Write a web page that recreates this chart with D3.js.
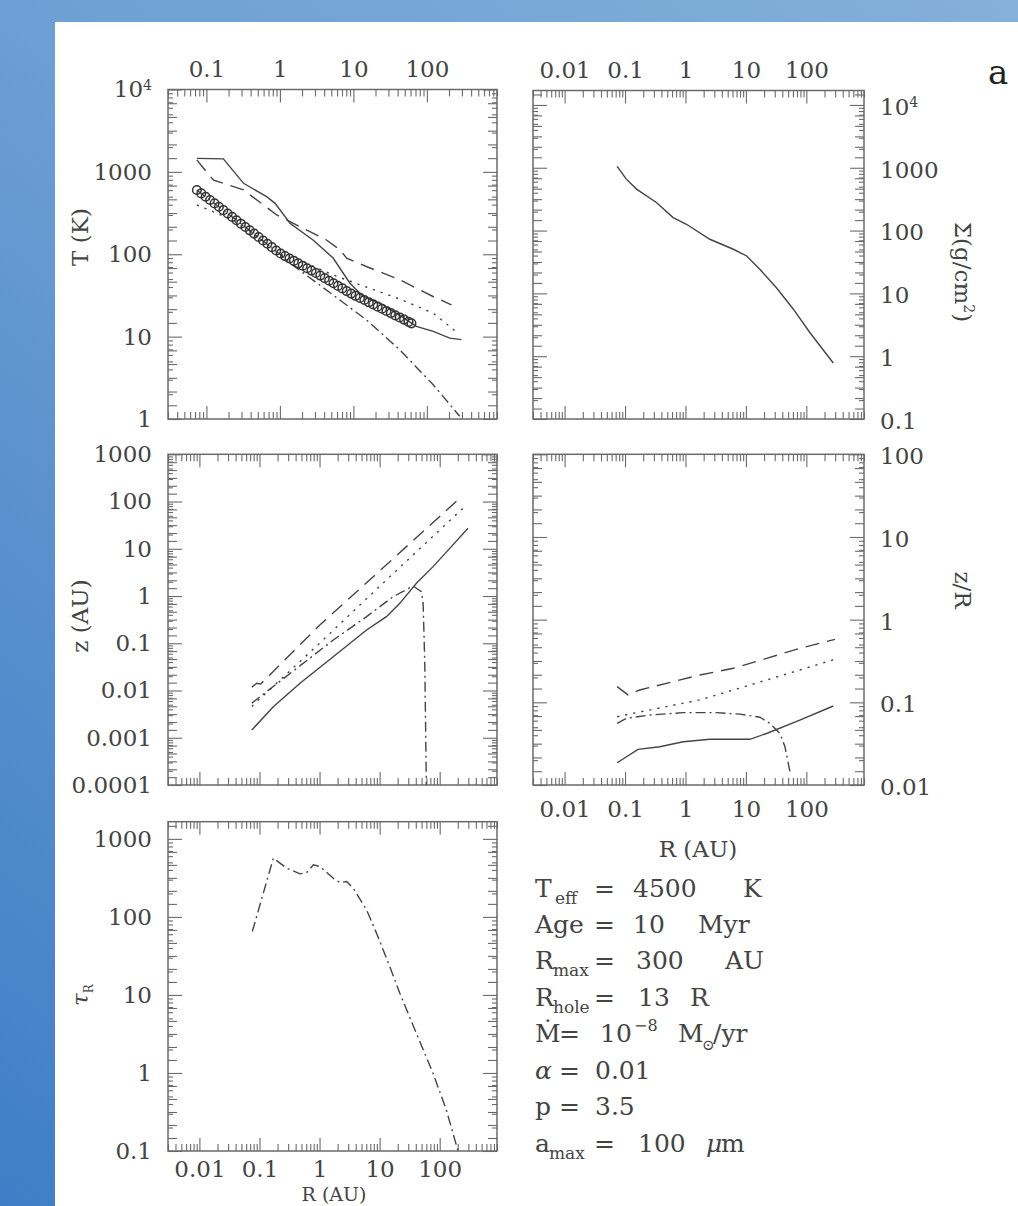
<!DOCTYPE html>
<html><head><meta charset="utf-8">
<script src="https://cdn.jsdelivr.net/npm/d3@7"></script>
<style>
html,body{margin:0;padding:0;background:#fff;}
body{width:1018px;height:1206px;overflow:hidden;}
text{font-family:"DejaVu Serif",serif;}
</style></head><body>
<svg id="c" width="1018" height="1206"></svg>
<script>
// ---------------- DATA ----------------
// Panel T(K) vs R(AU)
const T_solid   = [[0.074,1460],[0.17,1440],[0.32,726],[0.66,500],[0.86,415],[1.37,238],[2.85,148],[5.3,90],[8.97,44.5],[13.6,30.7],[25.5,24.3],[52.8,16],[72,13.3],[122,11.6],[205,9.6],[295,9.2]];
const T_dashed  = [[0.074,1400],[0.1,1000],[0.125,795],[0.32,604],[0.906,300],[1.88,216],[4.3,149],[6.6,113],[8.1,89.5],[15,71],[42.9,48.9],[121,30.7],[216,24.3]];
const T_dotted  = [[0.074,396],[0.14,314],[0.3,228],[1,100],[1.88,84],[5.3,56],[15,40],[43,28.5],[122,19.3],[265,11]];
const T_dashdot = [[0.074,600],[0.3,233],[1,100],[1.37,78],[5.3,32],[15,16],[43,6.9],[122,2.6],[280,1.08]];
const T_circR = [0.0741,0.0851,0.0977,0.112,0.129,0.148,0.170,0.195,0.224,0.257,0.295,0.339,0.389,0.447,0.513,0.589,0.676,0.776,0.891,1.023,1.175,1.349,1.549,1.778,2.042,2.344,2.692,3.090,3.548,4.074,4.677,5.370,6.166,7.079,8.128,9.333,10.72,12.30,14.13,16.22,18.62,21.38,24.55,28.18,32.36,37.15,42.66,48.98,56.23,61.66];
const T_circT = [603,548,499,455,414,377,343,312,284,259,235,214,195,178,162,147,134,122,111,102,95,88.8,83,77.5,72.4,67.7,63.3,59.2,55.1,51.3,47.7,44.4,41.3,38.5,35.7,33.3,31.3,29.5,27.8,26.1,24.6,23.1,21.8,20.5,19.3,18.1,17.1,16.1,15.1,14.5];
// Panel Sigma(g/cm2)
const Sigma_solid = [[0.074,1050],[0.105,659],[0.155,457],[0.33,280],[0.625,161],[1.04,126],[2.53,72.7],[6.2,50.4],[10.3,39.4],[17,24.2],[32,12.3],[61,5.6],[115,2.36],[279,0.78]];
// Panel z(AU)
const z_solid   = [[0.0745,0.00146],[0.17,0.00455],[0.473,0.0142],[1.69,0.052],[6.07,0.191],[13,0.366],[21.7,0.70],[41,1.86],[77.6,4.19],[147,10.2],[296,27.1]];
const z_dashed  = [[0.0745,0.0118],[0.09,0.0142],[0.105,0.0138],[1,0.24],[10,3.4],[100,48.3],[215,117]];
const z_dotted  = [[0.0745,0.0046],[1,0.10],[10,1.6],[100,25],[261,78]];
const z_dashdot = [[0.0745,0.0054],[1.69,0.117],[6.07,0.366],[16.8,0.97],[36,1.63],[49.7,1.24],[53,0.7],[56.5,0.0376],[60,0.0001]];
// Panel z/R
const zR_solid   = [[0.074,0.0186],[0.164,0.027],[0.376,0.029],[0.916,0.0334],[2.54,0.0357],[11.6,0.0357],[22,0.042],[78,0.061],[279,0.0903]];
const zR_dashed  = [[0.074,0.155],[0.112,0.123],[0.175,0.141],[1.73,0.214],[6.2,0.258],[22,0.34],[78,0.45],[298,0.578]];
const zR_dotted  = [[0.074,0.067],[0.136,0.0737],[0.485,0.0887],[1.73,0.107],[6.2,0.141],[22,0.186],[78,0.246],[298,0.331]];
const zR_dashdot = [[0.074,0.0557],[0.105,0.064],[0.257,0.0703],[0.916,0.075],[3.27,0.075],[7.9,0.072],[17,0.066],[25,0.0557],[36.6,0.042],[44.3,0.029],[50.3,0.0183],[53.6,0.0145]];
// Panel tau_R
const tau_dashdot = [[0.076,64.9],[0.17,565],[0.284,421],[0.473,356],[0.61,370],[0.79,464],[1.02,442],[1.69,313],[2.19,275],[2.82,284],[3.64,233],[6.07,123],[8.9,61.7],[14.8,23],[21.7,10.5],[41,3.2],[77.6,0.99],[129,0.336],[202,0.1]];
// Tick labels
const xLabelsT    = [0.1,1,10,100];
const xLabelsWide = [0.01,0.1,1,10,100];
const yLabelsT     = [1,10,100,1000,1e4];
const yLabelsSigma = [0.1,1,10,100,1000,1e4];
const yLabelsZ     = [1e-4,1e-3,0.01,0.1,1,10,100,1000];
const yLabelsZR    = [0.01,0.1,1,10,100];
const yLabelsTau   = [0.1,1,10,100,1000];

// ---------------- DRAW ----------------
const svg = d3.select('#c');
const defs = svg.append('defs');
const gr = defs.append('linearGradient').attr('id','bg').attr('gradientUnits','userSpaceOnUse')
  .attr('x1',0).attr('y1',1206).attr('x2',1018).attr('y2',0);
gr.append('stop').attr('offset',0).attr('stop-color','#3f7ec6');
gr.append('stop').attr('offset',0.58).attr('stop-color','#6c9fd3');
gr.append('stop').attr('offset',1).attr('stop-color','#84b0d9');
svg.append('rect').attr('width',1018).attr('height',1206).attr('fill','url(#bg)');
svg.append('rect').attr('x',55).attr('y',22).attr('width',963).attr('height',1184).attr('fill','#fff');

const INK = '#444', FRAME = '#6a6a6a', TXT = '#444';
const FS = 23;

function decades(d){const lo=Math.ceil(Math.log10(d[0])-1e-9),hi=Math.floor(Math.log10(d[1])+1e-9);return d3.range(lo,hi+1).map(e=>Math.pow(10,e));}
function minors(d){const o=[];for(let e=Math.floor(Math.log10(d[0]))-1;e<=Math.ceil(Math.log10(d[1]));e++){for(let k=2;k<=9;k++){const v=k*Math.pow(10,e);if(v>=d[0]*0.9999&&v<=d[1]*1.0001)o.push(v);}}return o;}
function sixths(d){const o=[];for(let e=Math.floor(Math.log10(d[0]))-1;e<=Math.ceil(Math.log10(d[1]));e++){for(let j=1;j<=5;j++){const v=Math.pow(10,e+j/6);if(v>=d[0]&&v<=d[1])o.push(v);}}return o;}
function fmt(v){ if(v>=1e4) return '10^'+Math.round(Math.log10(v)); return String(+v.toPrecision(6)); }
function styleLabels(sel){
  sel.attr('font-family','"DejaVu Serif",serif').attr('font-size',FS);
  sel.selectAll('text').attr('fill',TXT).each(function(){
    const t=d3.select(this), s=t.text();
    if(s.indexOf('^')>=0){const p=s.split('^');t.text(p[0]);t.append('tspan').attr('font-size',14).attr('dy','-0.55em').text(p[1]);}
  });
}

function panel(c){
  const x=d3.scaleLog().domain(c.xd).range([c.x0,c.x1]);
  const y=d3.scaleLog().domain(c.yd).range([c.y1,c.y0]);
  const g=svg.append('g');
  const tk=g.append('g').attr('color',FRAME).attr('stroke-width',1.1);
  const xMaj=decades(c.xd), xMin=minors(c.xd);
  const yMaj=decades(c.yd), yMin=minors(c.yd), ySix=sixths(c.yd);
  const addAxis=(gen,tr)=>{const a=tk.append('g').attr('transform',tr).call(gen);a.select('.domain').remove();a.selectAll('text').remove();};
  [[xMaj,13],[xMin,7]].forEach(([v,l])=>{
    addAxis(d3.axisBottom(x).tickValues(v).tickSize(-l),`translate(0,${c.y1})`);
    addAxis(d3.axisTop(x).tickValues(v).tickSize(-l),`translate(0,${c.y0})`);
  });
  [[yMaj,14],[ySix,9],[yMin,5]].forEach(([v,l])=>{
    addAxis(d3.axisLeft(y).tickValues(v).tickSize(-l),`translate(${c.x0},0)`);
    addAxis(d3.axisRight(y).tickValues(v).tickSize(-l),`translate(${c.x1},0)`);
  });
  g.append('rect').attr('x',c.x0).attr('y',c.y0).attr('width',c.x1-c.x0).attr('height',c.y1-c.y0)
    .attr('fill','none').attr('stroke',FRAME).attr('stroke-width',1.5);
  // labels
  if(c.top){const a=g.append('g').attr('transform',`translate(0,${c.y0})`).call(d3.axisTop(x).tickValues(c.top).tickSize(0).tickPadding(13).tickFormat(fmt));a.select('.domain').remove();styleLabels(a);}
  if(c.bottom){const a=g.append('g').attr('transform',`translate(0,${c.y1})`).call(d3.axisBottom(x).tickValues(c.bottom).tickSize(0).tickPadding(c.bpad||16).tickFormat(fmt));a.select('.domain').remove();styleLabels(a);}
  if(c.left){const a=g.append('g').attr('transform',`translate(${c.x0},0)`).call(d3.axisLeft(y).tickValues(c.left).tickSize(0).tickPadding(16).tickFormat(fmt));a.select('.domain').remove();styleLabels(a);}
  if(c.right){const a=g.append('g').attr('transform',`translate(${c.x1},2)`).call(d3.axisRight(y).tickValues(c.right).tickSize(0).tickPadding(16).tickFormat(fmt));a.select('.domain').remove();styleLabels(a);}
  const line=d3.line().x(d=>x(d[0])).y(d=>y(d[1]));
  const clip='clip'+c.id;
  defs.append('clipPath').attr('id',clip).append('rect').attr('x',c.x0).attr('y',c.y0).attr('width',c.x1-c.x0).attr('height',c.y1-c.y0);
  const lg=g.append('g').attr('clip-path',`url(#${clip})`);
  const dashes={solid:null,dashed:'14,8',dotted:'2.2,6',dashdot:'10,4,2,4'};
  (c.series||[]).forEach(s=>{
    lg.append('path').attr('d',line(s.data)).attr('fill','none').attr('stroke',INK).attr('stroke-width',1.4)
      .attr('stroke-dasharray',dashes[s.style]);
  });
  if(c.circles){
    lg.selectAll('circle.o').data(d3.zip(c.circles[0],c.circles[1])).join('circle')
      .attr('cx',d=>x(d[0])).attr('cy',d=>y(d[1])).attr('r',4.3)
      .attr('fill','none').attr('stroke','#333').attr('stroke-width',1.5);
  }
  return {x,y};
}

const XL=168, XR=497, XL2=533, XR2=864;
panel({id:'T',x0:XL,x1:XR,y0:89.5,y1:419,xd:[0.03,900],yd:[1,1e4],top:xLabelsT,left:yLabelsT,
  series:[{data:T_solid,style:'solid'},{data:T_dashed,style:'dashed'},{data:T_dotted,style:'dotted'},{data:T_dashdot,style:'dashdot'}],
  circles:[T_circR,T_circT]});
panel({id:'S',x0:XL2,x1:XR2,y0:90.5,y1:419,xd:[0.003,900],yd:[0.1,Math.pow(10,4.23)],top:xLabelsWide,right:yLabelsSigma,
  series:[{data:Sigma_solid,style:'solid'}]});
panel({id:'Z',x0:XL,x1:XR,y0:454.3,y1:785,xd:[0.003,900],yd:[1e-4,1e3],left:yLabelsZ,
  series:[{data:z_solid,style:'solid'},{data:z_dashed,style:'dashed'},{data:z_dotted,style:'dotted'},{data:z_dashdot,style:'dashdot'}]});
panel({id:'ZR',x0:XL2,x1:XR2,y0:454.3,y1:785,xd:[0.003,900],yd:[0.01,100],right:yLabelsZR,bottom:xLabelsWide,bpad:16,
  series:[{data:zR_solid,style:'solid'},{data:zR_dashed,style:'dashed'},{data:zR_dotted,style:'dotted'},{data:zR_dashdot,style:'dashdot'}]});
panel({id:'TAU',x0:XL,x1:XR,y0:821.7,y1:1151,xd:[0.003,900],yd:[0.1,Math.pow(10,3.22)],left:yLabelsTau,bottom:xLabelsWide,bpad:10,
  series:[{data:tau_dashdot,style:'dashdot'}]});

// axis titles
function title(x,y,rot,parts,size){
  const t=svg.append('text').attr('transform',`translate(${x},${y}) rotate(${rot})`).attr('text-anchor','middle')
    .attr('font-size',size||23).attr('fill',TXT);
  parts.forEach(p=>{const s=t.append('tspan').text(p.t);if(p.dy)s.attr('dy',p.dy);if(p.fs)s.attr('font-size',p.fs);if(p.it)s.attr('font-style','italic');});
  return t;
}
title(88,237,-90,[{t:'T (K)'}]);
title(88,616,-90,[{t:'z (AU)'}]);
title(88,995,-90,[{t:'τ',it:1},{t:'R',fs:12,dy:5}]);
title(955,272,90,[{t:'Σ(g/cm'},{t:'2',fs:14,dy:-9},{t:')',dy:9}]);
title(955,590,90,[{t:'z/R'}]);
title(698,857,0,[{t:'R (AU)'}]);
title(334,1201,0,[{t:'R (AU)'}],19);

// panel letter
svg.append('text').attr('x',988).attr('y',84).attr('font-family','"Liberation Sans",Arial,sans-serif')
  .attr('font-size',34).attr('fill','#222').text('a');

// parameter block
const MAIN=25, SUB=17;
const block=[
  {y:897,p:[['T',535],['eff',555,'sub'],['=',594],['4500',633],['K',743]]},
  {y:933,p:[['Age',535],['=',594],['10',633],['Myr',698]]},
  {y:969,p:[['R',535],['max',553,'sub'],['=',594],['300',636],['AU',725]]},
  {y:1006,p:[['R',535],['hole',553,'sub'],['=',594],['13',638],['R',690]]},
  {y:1042,p:[['Ṁ',535],['=',559],['10',600],['−8',634,'sup'],['M',678],['⊙',702,'sub2'],['/yr',713]]},
  {y:1079,p:[['α',535,'it'],['=',559],['0.01',595]]},
  {y:1115,p:[['p',535],['=',559],['3.5',595]]},
  {y:1152,p:[['a',535],['max',549,'sub'],['=',594],['100',638],['μ',706,'it'],['m',721]]}
];
block.forEach(l=>l.p.forEach(([s,x,k])=>{
  const t=svg.append('text').attr('x',x).attr('y',l.y).attr('fill',TXT).attr('font-size',MAIN).text(s);
  if(k==='sub'){t.attr('font-size',SUB).attr('y',l.y+7);}
  if(k==='sub2'){t.attr('font-size',15).attr('y',l.y+8);}
  if(k==='sup'){t.attr('font-size',16).attr('y',l.y-11);}
  if(k==='it'){t.attr('font-style','italic');}
}));
</script>
</body></html>
